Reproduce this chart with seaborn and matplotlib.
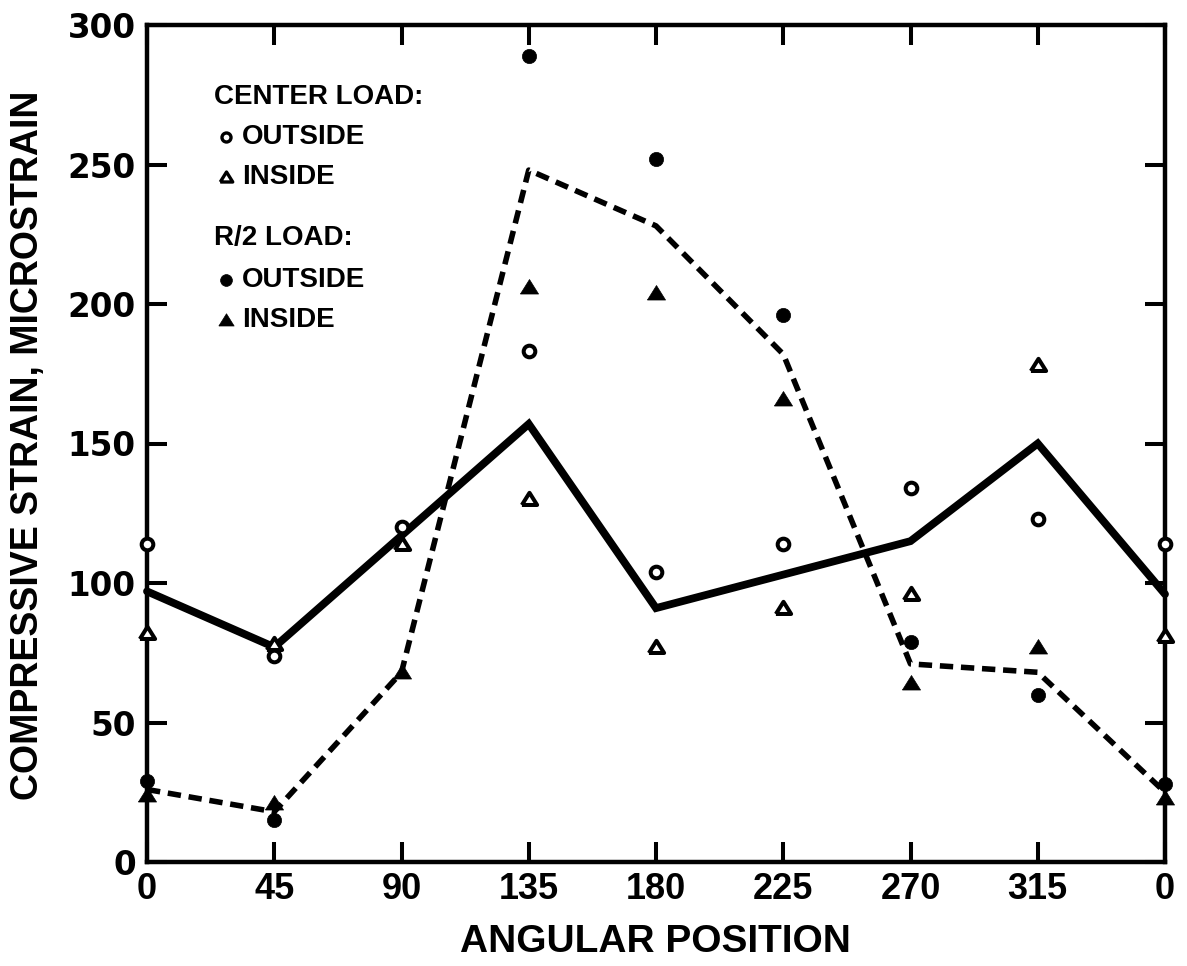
import numpy as np
import pandas as pd
import matplotlib
matplotlib.use("Agg")
import matplotlib.pyplot as plt
import seaborn as sns

# Angular stations around the ring (0 repeated at 360 to close the loop)
angles = [0, 45, 90, 135, 180, 225, 270, 315, 360]
angle_labels = ["0", "45", "90", "135", "180", "225", "270", "315", "0"]
strain_ticks = [0, 50, 100, 150, 200, 250, 300]

# Measured compressive strain, microstrain
center_outside = [114, 74, 120, 183, 104, 114, 134, 123, 114]
center_inside = [82, 78, 114, 130, 77, 91, 96, 178, 81]
r2_outside = [29, 15, np.nan, 289, 252, 196, 79, 60, 28]
r2_inside = [24, 21, 68, 206, 204, 166, 64, 77, 23]

# Average curves for each load case
center_avg = [97, 77, 117, 157, 91, 103, 115, 150, 96]
r2_avg = [26, 18, 68, 248, 228, 182, 71, 68, 25]

sns.set_theme(style="white")
plt.rcParams["font.family"] = ["Liberation Sans", "DejaVu Sans"]
plt.rcParams["font.weight"] = "bold"

W, H = 1187, 966
fig = plt.figure(figsize=(W / 100, H / 100), dpi=100)
fig.patch.set_facecolor("white")
x0, x1, y0, y1 = 147, 1165, 25, 862
ax = fig.add_axes([x0 / W, 1 - y1 / H, (x1 - x0) / W, (y1 - y0) / H])
ax.set_facecolor("white")

# Average lines
sns.lineplot(x=angles, y=center_avg, ax=ax, color="black", linewidth=5.6,
             solid_joinstyle="miter", zorder=4, clip_on=False)
sns.lineplot(x=angles, y=r2_avg, ax=ax, color="black", linewidth=4.0,
             linestyle=(0, (2.4, 1.4)), zorder=4, clip_on=False)

# Individual gauge readings
pts = pd.concat([
    pd.DataFrame({"angle": angles, "strain": center_outside, "set": "co"}),
    pd.DataFrame({"angle": angles, "strain": center_inside, "set": "ci"}),
    pd.DataFrame({"angle": angles, "strain": r2_outside, "set": "ro"}),
    pd.DataFrame({"angle": angles, "strain": r2_inside, "set": "ri"}),
], ignore_index=True).dropna()

# slightly flattened triangle, as drawn on the original plotting symbols
tri = [(-1.0, -0.72), (1.0, -0.72), (0.0, 0.88), (-1.0, -0.72)]

styles = {
    "co": dict(marker="o", s=70, facecolor="white", edgecolor="black", linewidth=2.9),
    "ci": dict(marker=tri, s=120, facecolor="white", edgecolor="black", linewidth=2.9),
    "ro": dict(marker="o", s=105, facecolor="black", edgecolor="black", linewidth=0.5),
    "ri": dict(marker=tri, s=170, facecolor="black", edgecolor="black", linewidth=0.5),
}
for key, st in styles.items():
    sub = pts[pts["set"] == key]
    sns.scatterplot(data=sub, x="angle", y="strain", ax=ax, zorder=5,
                    clip_on=False, legend=False, **st)

ax.set_xlim(0, 360)
ax.set_ylim(0, 300)
ax.set_xticks(angles, labels=angle_labels, fontsize=26, fontweight="bold",
              fontfamily="Liberation Sans", color="black")
ax.set_yticks(strain_ticks, labels=[str(v) for v in strain_ticks], fontsize=23.5,
              fontweight="bold", fontfamily="DejaVu Sans", color="black")

for sp in ax.spines.values():
    sp.set_visible(True)
    sp.set_color("black")
    sp.set_linewidth(3.2)

ax.tick_params(axis="both", direction="in", length=14.5, width=2.9, color="black",
               top=True, right=True, bottom=True, left=True)
ax.tick_params(axis="x", pad=7)
ax.tick_params(axis="y", pad=8)

ax.set_xlabel("ANGULAR POSITION", fontsize=28, fontweight="bold", color="black")
ax.set_ylabel("COMPRESSIVE STRAIN, MICROSTRAIN", fontsize=27, fontweight="bold",
              color="black")
ax.xaxis.label.set_va("baseline")
ax.yaxis.label.set_va("center")
ax.xaxis.set_label_coords((655 - x0) / (x1 - x0), (y1 - 952) / (y1 - y0))
ax.yaxis.set_label_coords((28 - x0) / (x1 - x0), (y1 - 445) / (y1 - y0))

# Key drawn inside the plot
def fx(px):
    return px / W

def fy(py):
    return 1 - py / H

key_font = dict(fontsize=20, fontweight="bold", color="black", va="center",
                ha="left", transform=fig.transFigure)
fig.text(fx(214), fy(97), "CENTER LOAD:", **key_font)
fig.text(fx(242), fy(137), "OUTSIDE", **key_font)
fig.text(fx(242), fy(177), "INSIDE", **key_font)
fig.text(fx(214), fy(238), "R/2 LOAD:", **key_font)
fig.text(fx(242), fy(280), "OUTSIDE", **key_font)
fig.text(fx(242), fy(320), "INSIDE", **key_font)

key_marks = [
    (137, "o", "white", 6.5, 2.4),
    (177, tri, "white", 9.0, 2.4),
    (280, "o", "black", 8.5, 0.5),
    (320, tri, "black", 11.0, 0.5),
]
for py, m, fc, ms, mew in key_marks:
    ax.plot([fx(226)], [fy(py)], marker=m, markersize=ms, markerfacecolor=fc,
            markeredgecolor="black", markeredgewidth=mew, linestyle="none",
            transform=fig.transFigure, clip_on=False, zorder=6)

fig.savefig("out.png", dpi=100, facecolor="white")
